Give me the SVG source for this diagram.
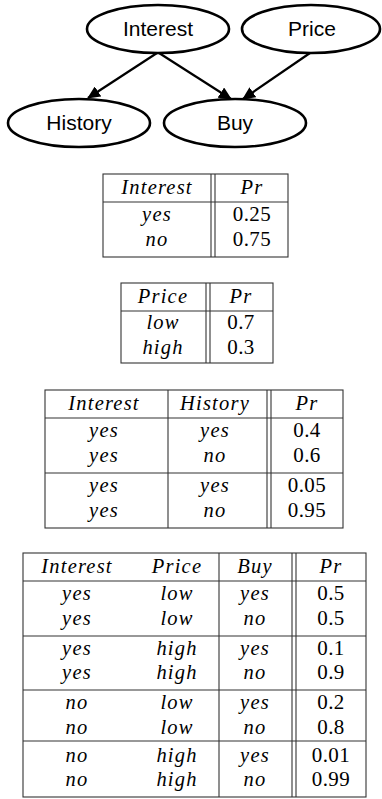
<svg xmlns="http://www.w3.org/2000/svg" width="382" height="799" viewBox="0 0 382 799">
<style>
.bg{fill:#fff}
.node ellipse{fill:#fff;stroke:#000;stroke-width:2.6}
.node text{font-family:"Liberation Sans",Arial,sans-serif;font-size:21px;fill:#000;text-anchor:middle}
.edge{stroke:#000;stroke-width:2.2;fill:none;marker-end:url(#arr)}
.tl{stroke:#333;stroke-width:1.1;fill:none}
.it{font-family:"Liberation Serif","Times New Roman",serif;font-style:italic;font-size:20.5px;letter-spacing:1.2px;fill:#000;text-anchor:middle}
.num{font-family:"Liberation Serif","Times New Roman",serif;font-size:21px;letter-spacing:0.4px;fill:#000;text-anchor:middle}
</style>
<defs>
<marker id="arr" markerUnits="userSpaceOnUse" markerWidth="14" markerHeight="12" refX="12" refY="6" orient="auto">
<path d="M0,0 L13,6 L0,12 z" fill="#000"/>
</marker>
</defs>
<rect class="bg" x="0" y="0" width="382" height="799"/>
<g id="connectors">
<line class="edge" x1="157" y1="53" x2="88" y2="98"/>
<line class="edge" x1="159" y1="53" x2="231" y2="99"/>
<line class="edge" x1="310" y1="53" x2="243" y2="99"/>
</g>
<g id="node-interest" class="node"><ellipse cx="158" cy="29" rx="71" ry="24"/><text x="158" y="36">Interest</text></g>
<g id="node-price" class="node"><ellipse cx="311" cy="29" rx="69" ry="24"/><text x="312" y="36">Price</text></g>
<g id="node-history" class="node"><ellipse cx="79" cy="123" rx="71" ry="24"/><text x="79" y="130">History</text></g>
<g id="node-buy" class="node"><ellipse cx="235" cy="123" rx="71" ry="24"/><text x="235" y="130">Buy</text></g>

<g id="table-interest">
<rect class="tl" x="103" y="174" width="185" height="83"/>
<line class="tl" x1="103" y1="202" x2="288" y2="202"/>
<line class="tl" x1="211" y1="174" x2="211" y2="257"/>
<line class="tl" x1="215" y1="174" x2="215" y2="257"/>
<text class="it" x="157" y="194">Interest</text><text class="it" x="252" y="194">Pr</text>
<text class="it" x="157" y="221">yes</text><text class="num" x="252" y="221">0.25</text>
<text class="it" x="157" y="246">no</text><text class="num" x="252" y="246">0.75</text>
</g>

<g id="table-price">
<rect class="tl" x="121" y="283" width="152" height="80"/>
<line class="tl" x1="121" y1="311" x2="273" y2="311"/>
<line class="tl" x1="206" y1="283" x2="206" y2="363"/>
<line class="tl" x1="210" y1="283" x2="210" y2="363"/>
<text class="it" x="163" y="303">Price</text><text class="it" x="241" y="303">Pr</text>
<text class="it" x="163" y="329">low</text><text class="num" x="241" y="329">0.7</text>
<text class="it" x="163" y="354">high</text><text class="num" x="241" y="354">0.3</text>
</g>

<g id="table-history">
<rect class="tl" x="45" y="390" width="298" height="138"/>
<line class="tl" x1="45" y1="418" x2="343" y2="418"/>
<line class="tl" x1="45" y1="473" x2="343" y2="473"/>
<line class="tl" x1="168" y1="390" x2="168" y2="528"/>
<line class="tl" x1="267" y1="390" x2="267" y2="528"/>
<line class="tl" x1="271" y1="390" x2="271" y2="528"/>
<text class="it" x="104" y="410">Interest</text><text class="it" x="215" y="410">History</text><text class="it" x="307" y="410">Pr</text>
<text class="it" x="104" y="437">yes</text><text class="it" x="215" y="437">yes</text><text class="num" x="307" y="437">0.4</text>
<text class="it" x="104" y="462">yes</text><text class="it" x="215" y="462">no</text><text class="num" x="307" y="462">0.6</text>
<text class="it" x="104" y="492">yes</text><text class="it" x="215" y="492">yes</text><text class="num" x="307" y="492">0.05</text>
<text class="it" x="104" y="517">yes</text><text class="it" x="215" y="517">no</text><text class="num" x="307" y="517">0.95</text>
</g>

<g id="table-buy">
<rect class="tl" x="23" y="553" width="343" height="244"/>
<line class="tl" x1="23" y1="581" x2="366" y2="581"/>
<line class="tl" x1="23" y1="636" x2="366" y2="636"/>
<line class="tl" x1="23" y1="690" x2="366" y2="690"/>
<line class="tl" x1="23" y1="741" x2="366" y2="741"/>
<line class="tl" x1="219" y1="553" x2="219" y2="797"/>
<line class="tl" x1="292" y1="553" x2="292" y2="797"/>
<line class="tl" x1="296" y1="553" x2="296" y2="797"/>
<text class="it" x="77" y="573">Interest</text><text class="it" x="177" y="573">Price</text><text class="it" x="255" y="573">Buy</text><text class="it" x="331" y="573">Pr</text>
<text class="it" x="77" y="600">yes</text><text class="it" x="177" y="600">low</text><text class="it" x="255" y="600">yes</text><text class="num" x="331" y="600">0.5</text>
<text class="it" x="77" y="625">yes</text><text class="it" x="177" y="625">low</text><text class="it" x="255" y="625">no</text><text class="num" x="331" y="625">0.5</text>
<text class="it" x="77" y="655">yes</text><text class="it" x="177" y="655">high</text><text class="it" x="255" y="655">yes</text><text class="num" x="331" y="655">0.1</text>
<text class="it" x="77" y="679">yes</text><text class="it" x="177" y="679">high</text><text class="it" x="255" y="679">no</text><text class="num" x="331" y="679">0.9</text>
<text class="it" x="77" y="709">no</text><text class="it" x="177" y="709">low</text><text class="it" x="255" y="709">yes</text><text class="num" x="331" y="709">0.2</text>
<text class="it" x="77" y="734">no</text><text class="it" x="177" y="734">low</text><text class="it" x="255" y="734">no</text><text class="num" x="331" y="734">0.8</text>
<text class="it" x="77" y="762">no</text><text class="it" x="177" y="762">high</text><text class="it" x="255" y="762">yes</text><text class="num" x="331" y="762">0.01</text>
<text class="it" x="77" y="786">no</text><text class="it" x="177" y="786">high</text><text class="it" x="255" y="786">no</text><text class="num" x="331" y="786">0.99</text>
</g>
</svg>
